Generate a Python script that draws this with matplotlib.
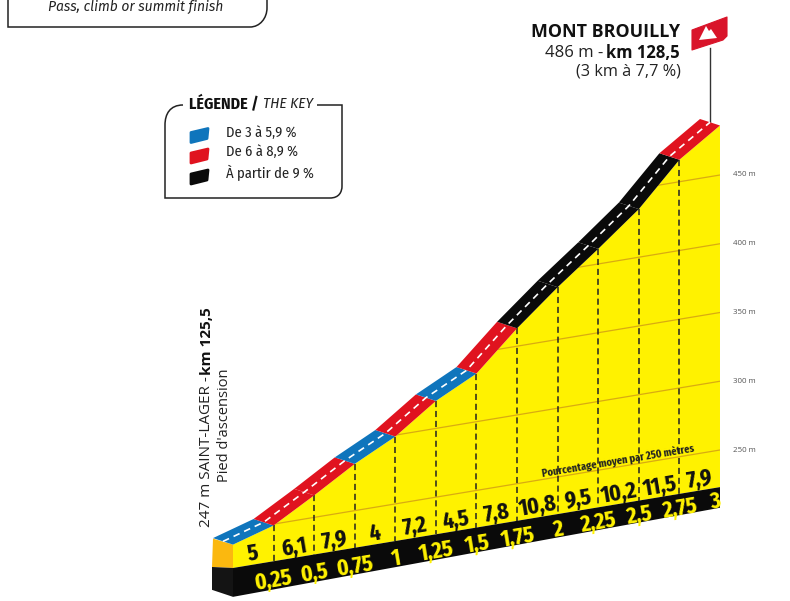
import numpy as np
import matplotlib
matplotlib.use('Agg')
import matplotlib.pyplot as plt
from matplotlib.patches import Polygon, PathPatch
from matplotlib.path import Path
from matplotlib.transforms import Affine2D

# data
km = [0, 0.25, 0.5, 0.75, 1, 1.25, 1.5, 1.75, 2, 2.25, 2.5, 2.75, 3]
altitude = [240, 249, 266, 284, 299, 320, 335, 363, 388, 411, 435, 466, 486]
km_labels = ['0,25', '0,5', '0,75', '1', '1,25', '1,5', '1,75', '2', '2,25', '2,5', '2,75', '3']
pct = [5, 6.1, 7.9, 4, 7.2, 4.5, 7.8, 10.8, 9.5, 10.2, 11.5, 7.9]
pct_labels = ['5', '6,1', '7,9', '4', '7,2', '4,5', '7,8', '10,8', '9,5', '10,2', '11,5', '7,9']
grid_alt = [250, 300, 350, 400, 450]
base_top = [223, 223]
base_bottom = [202, 208]

BLUE = '#0f75bc'
RED = '#e0131f'
BLACK = '#0a0a0a'
YELLOW = '#fff200'
NARROW = ['Fira Sans Extra Condensed', 'Liberation Sans Narrow', 'Liberation Sans']
COND = ['Fira Sans Condensed', 'Liberation Sans Narrow', 'Liberation Sans']
SANS = ['Open Sans', 'DejaVu Sans']

fig = plt.figure(figsize=(7.9, 6.01), dpi=100)
ax = fig.add_axes([0, 0, 1, 1])
ax.set_xlim(0, 790)
ax.set_ylim(601, 0)
ax.axis('off')

# km/altitude -> sheared picture position
shear = Affine2D.from_values(162.33, -26.95, 0, -1.375, 233, 874.6)
profile = shear + ax.transData
ROT = 9.5


def road_color(p):
    if p < 6:
        return BLUE
    if p < 9:
        return RED
    return BLACK


def at(k, a, dx=0, dy=0):
    pts = shear.transform(np.column_stack([k, a]))
    return pts + [dx, dy]


# yellow body
body = np.vstack([at(km, altitude), at([3, 0], base_top)])
face = Polygon(body, closed=True, fc=YELLOW, ec='none', zorder=2)
ax.add_patch(face)

# grid lines
for g in grid_alt:
    line, = ax.plot([0, 3], [g, g], color='#d9ab12', lw=0.9, transform=profile, zorder=3)
    line.set_clip_path(face)
    xr, yr = at([3], [g])[0]
    ax.text(733, yr, f'{g} m', fontsize=5.7, color='#555555', family=SANS, va='center', ha='left')

# left faces and black base
p0 = at([0], [altitude[0]])[0]
b0 = at([0], [base_top[0]])[0]
b1 = at([0], [base_bottom[0]])[0]
ax.add_patch(Polygon([p0, p0 + [-20, -6], b0 + [-21, -1], b0], fc='#fbb80f', ec='none', zorder=2))
ax.add_patch(Polygon([b0, b0 + [-21, -1], b1 + [-21, -7], b1], fc='#141414', ec='none', zorder=2))
ax.add_patch(Polygon(np.vstack([at([0, 3], base_top), at([3, 0], base_bottom[::-1])]), fc=BLACK, ec='none', zorder=2))

# vertical dashed lines
for k, a in zip(km[1:-1], altitude[1:-1]):
    ax.plot([k, k], [a, base_top[0]], color='#222222', lw=1.1, ls=(0, (4, 2.5)), transform=profile, zorder=4)

# road
for i, p in enumerate(pct):
    f = at(km[i:i + 2], altitude[i:i + 2])
    ax.add_patch(Polygon(np.vstack([f, f[::-1] + [-20, -6.5]]), fc=road_color(p), ec='none', zorder=5))
centre = at(km, altitude, -10, -3.2)
ax.plot(centre[:, 0], centre[:, 1], color='white', lw=1.2, ls=(0, (4, 3)), zorder=6)

# labels on the profile
for k0, k1, t in zip(km[:-1], km[1:], pct_labels):
    ax.text((k0 + k1) / 2, 231, t, transform=profile, rotation=ROT, rotation_mode='anchor',
            ha='center', va='center', fontsize=17, fontweight='bold', family=NARROW, color='#111111', zorder=7)
for k, t in zip(km[1:], km_labels):
    ax.text(min(k, 2.97), 208.5 + 1.5 * k, t, transform=profile, rotation=ROT, rotation_mode='anchor',
            ha='center', va='center', fontsize=17, fontweight='bold', family=NARROW, color=YELLOW, zorder=7)
ax.text(618, 461, 'Pourcentage moyen par 250 mètres', rotation=ROT, rotation_mode='anchor', ha='center',
        va='center', fontsize=8.2, fontweight='bold', family=NARROW, color='#222222', zorder=7)

# summit
ax.text(680, 32, 'MONT BROUILLY', ha='right', va='center', fontsize=12.9, fontweight='bold', family=SANS, color='#111111')
ax.text(680, 53, 'km 128,5', ha='right', va='center', fontsize=12, fontweight='bold', family=SANS, color='#111111')
ax.text(603, 53, '486 m -', ha='right', va='center', fontsize=12, family=SANS, color='#222222')
ax.text(681, 72, '(3 km à 7,7 %)', ha='right', va='center', fontsize=11.7, family=SANS, color='#222222')
ax.plot([709.5, 709.5], [122, 48], color='#333333', lw=1.0, zorder=1)
ax.add_patch(Polygon([(692, 30), (727, 17), (727, 36), (723, 40), (692, 50), (692, 30)], fc='#d9142a', ec='#d9142a', lw=0.8, joinstyle='round', zorder=3))
ax.add_patch(Polygon([(699, 40), (706, 26), (709, 31), (711, 29), (717, 38)], fc='white', ec='none', zorder=4))

# start
ax.text(207, 527, '247 m SAINT-LAGER - ', rotation=90, ha='center', va='bottom', fontsize=11, family=SANS, color='#222222')
ax.text(207, 375, 'km 125,5', rotation=90, ha='center', va='bottom', fontsize=11, fontweight='bold', family=SANS, color='#111111')
ax.text(224, 425, "Pied d'ascension", rotation=90, ha='center', va='center', fontsize=10.5, family=SANS, color='#222222')

# legend box
verts = [(183, 105), (170, 105), (165, 114), (165, 125), (165, 198), (330, 198), (339, 198), (342, 192), (342, 186), (342, 105), (317, 105)]
codes = [Path.MOVETO, Path.CURVE4, Path.CURVE4, Path.CURVE4, Path.LINETO, Path.LINETO, Path.CURVE4, Path.CURVE4, Path.CURVE4, Path.LINETO, Path.LINETO]
ax.add_patch(PathPatch(Path(verts, codes), fc='none', ec='#222222', lw=1.1))
ax.text(189, 104, 'LÉGENDE /', ha='left', va='center', fontsize=11.5, fontweight='bold', family=COND, color='#111111')
ax.text(263, 104, 'THE KEY', ha='left', va='center', fontsize=11, style='italic', family=COND, color='#222222')
key_labels = ['De 3 à 5,9 %', 'De 6 à 8,9 %', 'À partir de 9 %']
key_colors = [BLUE, RED, BLACK]
key_y = [133, 152, 173]
swatch_y = [135.5, 156, 177]
for y, ys, c, t in zip(key_y, swatch_y, key_colors, key_labels):
    ax.add_patch(Polygon([(191, ys + 7), (191, ys - 3), (208, ys - 7), (207, ys + 3)], fc=c, ec=c, lw=2, joinstyle='round'))
    ax.text(226, y, t, ha='left', va='center', fontsize=10.5, family=COND, color='#222222')

# top box, cut by the picture edge
verts = [(8, -5), (8, 27), (250, 27), (260, 27), (267, 18), (267, 8), (267, -5)]
codes = [Path.MOVETO, Path.LINETO, Path.LINETO, Path.CURVE4, Path.CURVE4, Path.CURVE4, Path.LINETO]
ax.add_patch(PathPatch(Path(verts, codes), fc='none', ec='#222222', lw=1.1))
ax.text(48, 6.5, 'Pass, climb or summit finish', ha='left', va='center', fontsize=10, style='italic', family=['Fira Sans', 'Open Sans'], color='#222222')

fig.savefig('out.png', dpi=100)
